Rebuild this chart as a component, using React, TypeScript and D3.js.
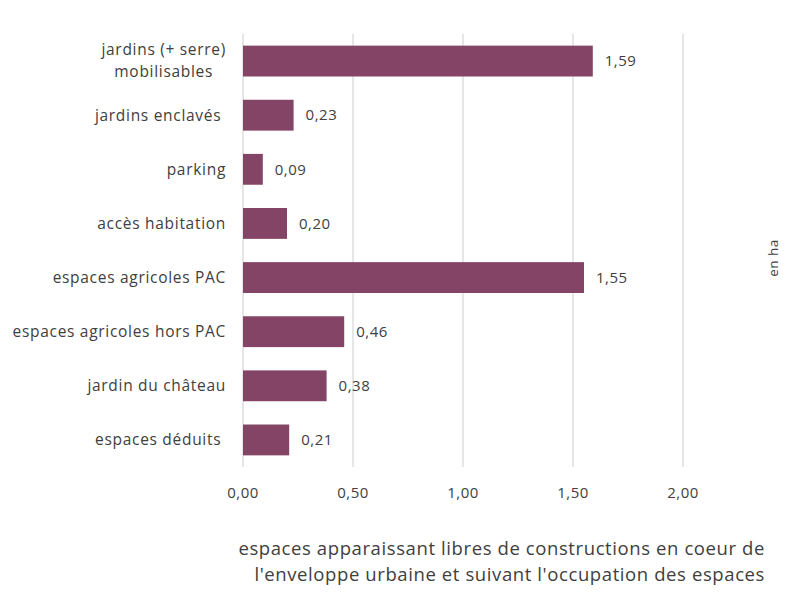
import * as d3 from 'd3';
import React, { useEffect, useRef } from 'react';

const categories = [
  ['jardins (+ serre)', 'mobilisables'],
  ['jardins enclavés '],
  ['parking'],
  ['accès habitation'],
  ['espaces agricoles PAC'],
  ['espaces agricoles hors PAC'],
  ['jardin du château'],
  ['espaces déduits '],
];
const values = [1.59, 0.23, 0.09, 0.2, 1.55, 0.46, 0.38, 0.21];
const xTicks = [0, 0.5, 1, 1.5, 2];
const axisTitle = [
  'espaces apparaissant libres de constructions en coeur de',
  "l'enveloppe urbaine et suivant l'occupation des espaces",
];
const unitLabel = 'en ha';

const width = 785;
const height = 606;
const margin = { top: 34, right: 102, bottom: 139, left: 243 };
const barColor = '#844465';
const textColor = '#404040';
const font = '"Open Sans", "DejaVu Sans", sans-serif';

const fmt = (v: number) => d3.format('.2f')(v).replace('.', ',');

const App: React.FC = () => {
  const ref = useRef<SVGSVGElement>(null);

  useEffect(() => {
    const svg = d3.select(ref.current);
    svg.selectAll('*').remove();

    const x = d3
      .scaleLinear()
      .domain([0, 2])
      .range([margin.left, width - margin.right]);

    const y = d3
      .scaleBand<number>()
      .domain(d3.range(values.length))
      .range([margin.top, height - margin.bottom])
      .paddingInner(0.43)
      .paddingOuter(0.215);

    // grille verticale
    svg
      .append('g')
      .selectAll('line')
      .data(xTicks)
      .join('line')
      .attr('x1', (d) => x(d))
      .attr('x2', (d) => x(d))
      .attr('y1', margin.top)
      .attr('y2', height - margin.bottom)
      .attr('stroke', '#d9d9d9')
      .attr('stroke-width', 1.3);

    // barres
    svg
      .append('g')
      .selectAll('rect')
      .data(values)
      .join('rect')
      .attr('x', x(0))
      .attr('y', (d, i) => y(i) ?? 0)
      .attr('width', (d) => x(d) - x(0))
      .attr('height', y.bandwidth())
      .attr('fill', barColor);

    // valeurs
    svg
      .append('g')
      .selectAll('text')
      .data(values)
      .join('text')
      .attr('x', (d) => x(d) + 12)
      .attr('y', (d, i) => (y(i) ?? 0) + y.bandwidth() / 2)
      .attr('dy', '0.35em')
      .attr('font-size', 15)
      .attr('letter-spacing', 0.5)
      .attr('fill', textColor)
      .text((d) => fmt(d));

    // libellés des catégories
    const labelRight = margin.left - 17;
    categories.forEach((lines, i) => {
      const cy = (y(i) ?? 0) + y.bandwidth() / 2;
      const g = svg.append('g');
      const texts = lines.map((line, j) =>
        g
          .append('text')
          .attr('y', cy + (j - (lines.length - 1) / 2) * 22)
          .attr('dy', '0.35em')
          .attr('font-size', 15.5)
          .attr('letter-spacing', 0.7)
          .attr('fill', textColor)
          .attr('text-anchor', 'middle')
          .attr('xml:space', 'preserve')
          .text(line)
      );
      const widths = texts.map((t) => (t.node() as SVGTextElement).getComputedTextLength());
      const cx = labelRight - d3.max(widths)! / 2;
      texts.forEach((t) => t.attr('x', cx));
    });

    // graduations
    svg
      .append('g')
      .selectAll('text')
      .data(xTicks)
      .join('text')
      .attr('x', (d) => x(d))
      .attr('y', height - margin.bottom + 26)
      .attr('dy', '0.35em')
      .attr('text-anchor', 'middle')
      .attr('font-size', 15)
      .attr('letter-spacing', 0.5)
      .attr('fill', textColor)
      .text((d) => fmt(d));

    // titre de l'axe
    svg
      .append('g')
      .selectAll('text')
      .data(axisTitle)
      .join('text')
      .attr('x', 765)
      .attr('y', (d, i) => 549 + i * 26)
      .attr('dy', '0.35em')
      .attr('text-anchor', 'end')
      .attr('font-size', 18.5)
      .attr('letter-spacing', 0.6)
      .attr('fill', textColor)
      .text((d) => d);

    svg
      .append('text')
      .attr('transform', 'translate(773,258) rotate(-90)')
      .attr('dy', '0.35em')
      .attr('text-anchor', 'middle')
      .attr('font-size', 13.5)
      .attr('letter-spacing', 0.5)
      .attr('fill', textColor)
      .text(unitLabel);
  }, []);

  return (
    <svg
      ref={ref}
      width={width}
      height={height}
      style={{ position: 'absolute', left: 0, top: 0, fontFamily: font, background: '#fff' }}
    />
  );
};

export default App;
